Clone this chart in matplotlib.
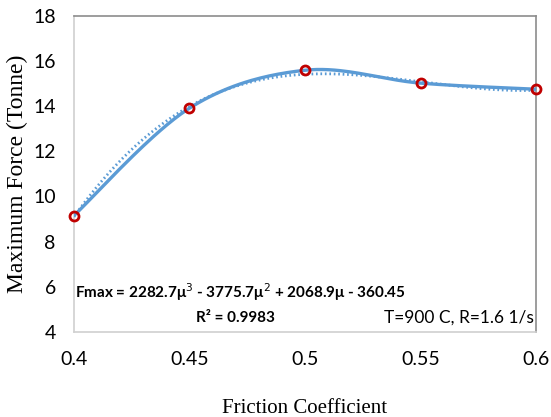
import numpy as np
import matplotlib.pyplot as plt

friction = [0.4, 0.45, 0.5, 0.55, 0.6]
force = [9.15, 13.91, 15.59, 15.02, 14.75]
# cubic trend line coefficients (as printed on the chart)
trend_coef = [2282.7, -3775.7, 2068.9, -360.45]
x_ticks = [0.4, 0.45, 0.5, 0.55, 0.6]
y_ticks = [4, 6, 8, 10, 12, 14, 16, 18]

blue = '#5B9BD5'
sans = ['Lato', 'DejaVu Sans']

fig = plt.figure(figsize=(5.51, 4.17), dpi=100)
ax = fig.add_axes([0.134, 0.204, 0.839, 0.758])
ax.set_xlim(0.4, 0.6)
ax.set_ylim(4, 18)


# smoothed line like a spreadsheet "smoothed line" (Catmull-Rom bezier, scaled space)
def smooth(xs, ys, n=40):
    xs = np.asarray(xs, float)
    ys = np.asarray(ys, float)
    sx = (xs - 0.4) / 0.2 * 462
    sy = (ys - 4) / 14 * 316
    P = np.column_stack([sx, sy])
    out = []
    for i in range(len(P) - 1):
        p0 = P[max(i - 1, 0)]
        p1 = P[i]
        p2 = P[i + 1]
        p3 = P[min(i + 2, len(P) - 1)]
        c1 = p1 + (p2 - p0) / 6
        c2 = p2 - (p3 - p1) / 6
        t = np.linspace(0, 1, n)[:, None]
        b = (1 - t) ** 3 * p1 + 3 * (1 - t) ** 2 * t * c1 + 3 * (1 - t) * t ** 2 * c2 + t ** 3 * p2
        out.append(b)
    B = np.vstack(out)
    return B[:, 0] / 462 * 0.2 + 0.4, B[:, 1] / 316 * 14 + 4


sx, sy = smooth(friction, force)
ax.plot(sx, sy, color=blue, lw=2.4, solid_capstyle='round', zorder=3)

xt = np.linspace(0.4, 0.6, 200)
ax.plot(xt, np.polyval(trend_coef, xt), color=blue, lw=2, ls=(0, (0.6, 1.0)), zorder=2)

ax.plot(friction, force, 'o', ms=6.5, mfc='none', mec='#C00000', mew=2, zorder=4,
        clip_on=False)

ax.set_xticks(x_ticks)
ax.set_xticklabels(['0.4', '0.45', '0.5', '0.55', '0.6'])
ax.set_yticks(y_ticks)
ax.tick_params(length=0, labelsize=14)
for lab in ax.get_xticklabels() + ax.get_yticklabels():
    lab.set_family(sans)
ax.tick_params(axis='x', pad=14)
ax.tick_params(axis='y', pad=13)

for s in ['top', 'right']:
    ax.spines[s].set_color('#8c8c8c')
for s in ['left', 'bottom']:
    ax.spines[s].set_color('#d0d0d0')
for s in ax.spines.values():
    s.set_linewidth(1.2)

ax.set_xlabel('Friction Coefficient', family='Liberation Serif', fontsize=15, labelpad=22)
ax.set_ylabel('Maximum Force (Tonne)', family='Liberation Serif', fontsize=17, labelpad=4)

ax.text(0.003, 0.125, 'Fmax = 2282.7\u03bc$^{3}$ - 3775.7\u03bc$^{2}$ + 2068.9\u03bc - 360.45',
        transform=ax.transAxes, family=sans, fontsize=11, fontweight='bold',
        ha='left', va='center')
ax.text(0.35, 0.045, 'R\u00b2 = 0.9983', transform=ax.transAxes, family=sans,
        fontsize=11, fontweight='bold', ha='center', va='center')
ax.text(0.995, 0.045, 'T=900 C, R=1.6 1/s', transform=ax.transAxes, family=sans,
        fontsize=12.5, ha='right', va='center')

fig.savefig('out.png', dpi=100)
